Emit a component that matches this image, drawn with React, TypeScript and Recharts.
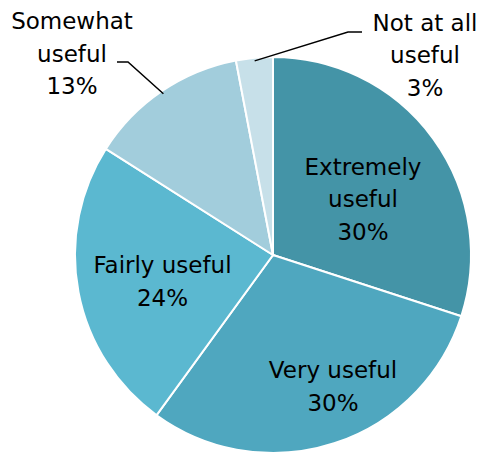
import React from "react";
import { PieChart, Pie, Cell } from "recharts";

const categories = ["Extremely useful", "Very useful", "Fairly useful", "Somewhat useful", "Not at all useful"];
const shares = [30, 30, 24, 13, 3];
const labelText = [
  ["Extremely", "useful", "30%"],
  ["Very useful", "30%"],
  ["Fairly useful", "24%"],
  ["Somewhat", "useful", "13%"],
  ["Not at all", "useful", "3%"],
];
const colors = ["#4494A7", "#4FA7BF", "#5BB8D0", "#A2CDDC", "#C7E0E9"];

const data = categories.map((name, i) => ({ name, value: shares[i] }));

// label anchor (middle baseline) relative to pie centre, plus leader line bends for outside labels
const labelLayout: { dx: number; dy: number; line?: [number, number][] }[] = [
  { dx: 90, dy: -48 },
  { dx: 60, dy: 139.5 },
  { dx: -110.5, dy: 34.5 },
  { dx: -201, dy: -193.5, line: [[-145, -193], [-156, -193]] },
  { dx: 152, dy: -192, line: [[75, -223], [89, -223]] },
];

const RAD = Math.PI / 180;
const LINE_H = 32.5;

const renderLabel = (props: any) => {
  const { cx, cy, midAngle, outerRadius, index } = props;
  const lay = labelLayout[index];
  const lines = labelText[index];
  const x = cx + lay.dx;
  const y = cy + lay.dy;
  let leader = null;
  if (lay.line) {
    const sx = cx + (outerRadius - 3) * Math.cos(-midAngle * RAD);
    const sy = cy + (outerRadius - 3) * Math.sin(-midAngle * RAD);
    const pts = [[sx, sy], ...lay.line.map(([a, b]) => [cx + a, cy + b])];
    leader = <polyline points={pts.map((p) => p.join(",")).join(" ")} fill="none" stroke="#000" strokeWidth={1.5} />;
  }
  return (
    <g key={`lbl-${index}`}>
      {leader}
      <text x={x} y={y} textAnchor="middle" fill="#000" fontSize={23} fontFamily="DejaVu Sans, sans-serif">
        {lines.map((t, i) => (
          <tspan key={i} x={x} y={y + (i - (lines.length - 1) / 2) * LINE_H}>
            {t}
          </tspan>
        ))}
      </text>
    </g>
  );
};

export default function App() {
  return (
    <div style={{ position: "absolute", left: 0, top: 0, width: 484, height: 456, background: "#fff" }}>
      <style>{`.recharts-pie-sectors { filter: drop-shadow(2px 2px 2px rgba(0,0,0,0.25)); }`}</style>
      <PieChart width={484} height={456} margin={{ top: 0, right: 0, bottom: 0, left: 0 }}>
        <Pie
          data={data}
          dataKey="value"
          nameKey="name"
          cx={273}
          cy={255}
          outerRadius={198}
          startAngle={90}
          endAngle={-270}
          stroke="#fff"
          strokeWidth={2}
          label={renderLabel}
          labelLine={false}
          isAnimationActive={false}
        >
          {data.map((entry, index) => (
            <Cell key={`cell-${index}`} fill={colors[index]} />
          ))}
        </Pie>
      </PieChart>
    </div>
  );
}
